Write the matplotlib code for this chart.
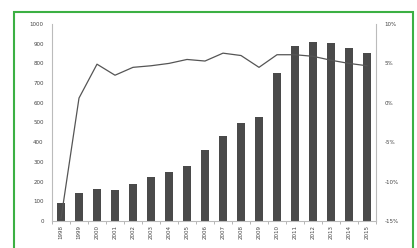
import numpy as np
import matplotlib.pyplot as plt
from matplotlib.patches import Rectangle
from matplotlib.ticker import FuncFormatter

years = [str(y) for y in range(1998, 2016)]
volume = [90, 140, 160, 155, 190, 225, 250, 280, 360, 430,
          500, 530, 750, 890, 910, 905, 880, 855]
growth = [-14.7, 0.6, 4.9, 3.5, 4.5, 4.7, 5.0, 5.5, 5.3, 6.3,
          6.0, 4.5, 6.1, 6.1, 5.9, 5.4, 5.0, 4.7]

fig = plt.figure(figsize=(4.17, 2.48), dpi=100)
ax = fig.add_axes([52/417, 1-221/248, (376-52)/417, (221-24)/248])

x = np.arange(len(years))
ax.bar(x, volume, width=0.4, color='#4a4a4a')
ax.set_xlim(-0.5, len(years)-0.5)
ax.set_ylim(0, 1000)
ax.set_yticks(np.arange(0, 1001, 100))
ax.set_xticks(x)
ax.set_xticklabels(years, rotation=90, fontsize=4, color='#444444')
ax.set_xticks(np.arange(-0.5, len(years), 1), minor=True)
ax.tick_params(axis='x', which='major', length=0, pad=3)
ax.tick_params(axis='x', which='minor', length=2, color='#aaaaaa')
ax.tick_params(axis='y', length=0, labelsize=4, labelcolor='#444444', pad=6)
for s in ['top', 'right']:
    ax.spines[s].set_visible(False)
for s in ['left', 'bottom']:
    ax.spines[s].set_color('#bbbbbb')
    ax.spines[s].set_linewidth(0.8)

ax2 = ax.twinx()
ax2.plot(x, growth, color='#555555', lw=0.9)
ax2.set_ylim(-15, 10)
ax2.set_yticks(np.arange(-15, 11, 5))
ax2.yaxis.set_major_formatter(FuncFormatter(lambda v, p: f'{v:.0f}%'))
ax2.tick_params(axis='y', length=0, labelsize=4, labelcolor='#444444', pad=6)
for s in ['top', 'left', 'bottom']:
    ax2.spines[s].set_visible(False)
ax2.spines['right'].set_color('#bbbbbb')
ax2.spines['right'].set_linewidth(0.8)

fig.patches.append(Rectangle((14/417, -0.1), (413-14)/417, 1.1-12/248,
                             transform=fig.transFigure, fill=False,
                             edgecolor='#3cb043', lw=1.5))

fig.savefig('out.png', dpi=100)
